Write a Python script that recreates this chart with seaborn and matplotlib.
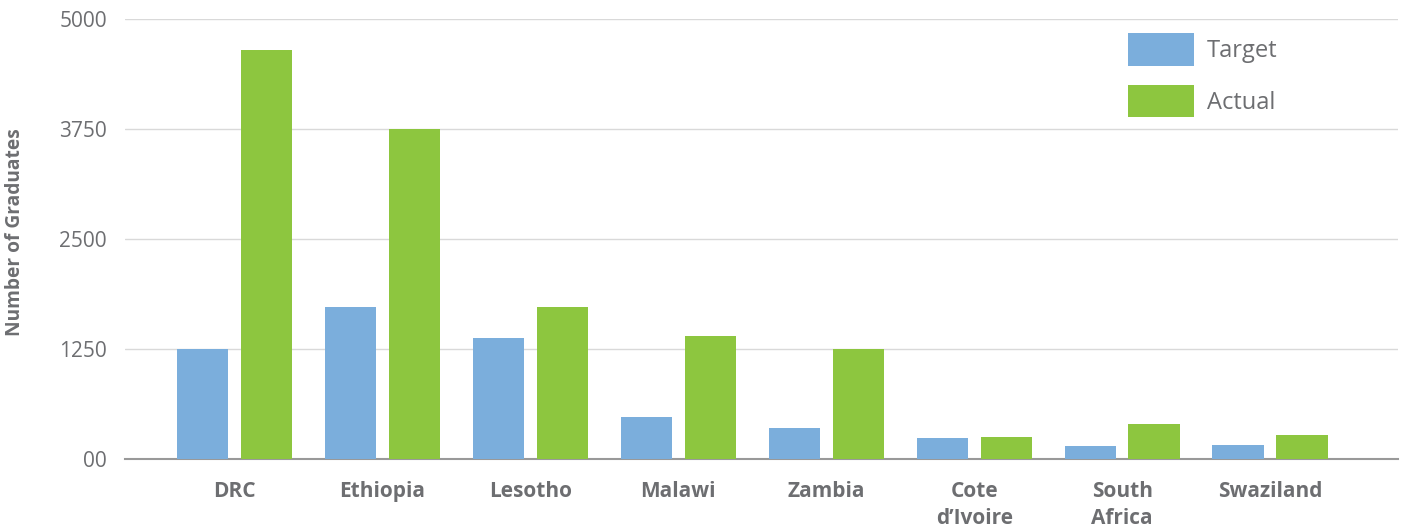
import matplotlib
matplotlib.use("Agg")
import matplotlib.pyplot as plt
import seaborn as sns
import pandas as pd

countries = ["DRC", "Ethiopia", "Lesotho", "Malawi", "Zambia", "Cote\nd\u2019Ivoire", "South\nAfrica", "Swaziland"]
target = [1250, 1725, 1375, 480, 355, 240, 150, 160]
actual = [4650, 3750, 1725, 1400, 1250, 252, 400, 275]
series_names = ["Target", "Actual"]
y_ticks = [0, 1250, 2500, 3750, 5000]
y_tick_labels = ["00", "1250", "2500", "3750", "5000"]
y_title = "Number of Graduates"

colors = ["#7BAEDC", "#8DC63F"]
text_gray = "#6D6E71"

df = pd.DataFrame({
    "Country": countries * 2,
    "Series": [series_names[0]] * len(countries) + [series_names[1]] * len(countries),
    "Value": target + actual,
})

sns.set_theme(style="white")
plt.rcParams["font.family"] = ["Open Sans", "DejaVu Sans"]

fig = plt.figure(figsize=(14.05, 5.27), dpi=100)
ax = fig.add_axes([125 / 1405, 1 - 459 / 527, (1398 - 125) / 1405, 440 / 527])

sns.barplot(data=df, x="Country", y="Value", hue="Series", palette=colors,
            width=0.865, gap=0.2, saturation=1, ax=ax, zorder=3,
            linewidth=0, edgecolor="none")

ax.set_ylim(0, 5000)
ax.set_xlim(-0.74, 7.865)
ax.set_yticks(y_ticks)
ax.set_yticklabels(y_tick_labels, fontsize=15, color=text_gray)
ax.yaxis.grid(True, color="#D9D9D9", linewidth=1, zorder=0)
ax.set_axisbelow(True)
ax.tick_params(axis="both", length=0)
ax.tick_params(axis="y", pad=13)
ax.tick_params(axis="x", pad=16)
for lbl in ax.get_xticklabels():
    lbl.set_fontsize(15)
    lbl.set_fontweight("bold")
    lbl.set_color(text_gray)
    lbl.set_linespacing(1.38)
    lbl.set_verticalalignment("top")

for s in ["top", "right", "left"]:
    ax.spines[s].set_visible(False)
ax.spines["bottom"].set_color("#999999")
ax.spines["bottom"].set_linewidth(1.5)

ax.set_xlabel("")
ax.set_ylabel(y_title, fontsize=13.8, fontweight="bold", color=text_gray)
ax.yaxis.set_label_coords(-0.0786, 0.515)

handles, labels = ax.get_legend_handles_labels()
leg = ax.legend(handles, labels, loc="upper left", bbox_to_anchor=(0.788, 0.968),
                frameon=False, fontsize=17, handlelength=2.8, handleheight=1.75,
                labelspacing=0.8, handletextpad=0.55, borderpad=0, borderaxespad=0)
for t in leg.get_texts():
    t.set_color(text_gray)
for h in leg.legend_handles:
    h.set_linewidth(0)

fig.savefig("out.png", dpi=100)
